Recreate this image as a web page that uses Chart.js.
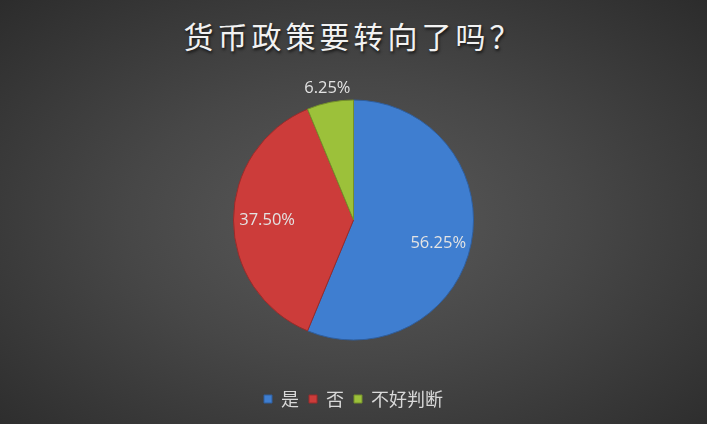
<!DOCTYPE html>
<html>
<head>
<meta charset="utf-8">
<script src="https://cdn.jsdelivr.net/npm/chart.js@4"></script>
<style>
  html, body { margin: 0; padding: 0; }
  body {
    width: 707px; height: 424px; overflow: hidden; position: relative;
    background: radial-gradient(ellipse at 50% 52%, #5a5a5a 0%, #474747 45%, #2c2c2c 100%);
  }
  #title {
    position: absolute; left: 0; top: 13px; width: 707px; text-align: center;
    font-family: "Noto Sans CJK SC", sans-serif; font-size: 30px; letter-spacing: 4px;
    color: #f2f2f2; text-shadow: 1px 2px 3px rgba(0,0,0,0.7);
  }
  #wrap { position: absolute; left: 0; top: 0; width: 707px; height: 424px; }
</style>
</head>
<body>
<div id="title">货币政策要转向了吗？</div>
<div id="wrap"><canvas id="pie"></canvas></div>
<script>
  const labels = ["是", "否", "不好判断"];
  const shares = [56.25, 37.5, 6.25];
  const valueLabels = ["56.25%", "37.50%", "6.25%"];
  const colors = ["#3f7ed0", "#cc3c3a", "#9cc13a"];
  const edges = ["#2f5f9f", "#9a2b2a", "#74902a"];

  // Excel-style data labels: inside for big slices, outside for the thin one
  const sliceLabels = {
    id: 'sliceLabels',
    afterDatasetsDraw(chart) {
      const ctx = chart.ctx;
      const meta = chart.getDatasetMeta(0);
      ctx.save();
      ctx.font = '16.5px "Open Sans", sans-serif';
      ctx.fillStyle = '#e3e3e3';
      ctx.textAlign = 'center';
      ctx.textBaseline = 'middle';
      meta.data.forEach((arc, i) => {
        const p = arc.getProps(['x', 'y', 'startAngle', 'endAngle', 'outerRadius'], true);
        const mid = (p.startAngle + p.endAngle) / 2;
        const r = shares[i] < 10 ? p.outerRadius + 14 : p.outerRadius * 0.72;
        const dy = i === 0 ? 6 : 0;
        ctx.fillText(valueLabels[i], p.x + Math.cos(mid) * r, p.y + Math.sin(mid) * r + dy);
      });
      ctx.restore();
    }
  };

  new Chart(document.getElementById('pie'), {
    type: 'pie',
    data: {
      labels: labels,
      datasets: [{
        data: shares,
        backgroundColor: colors,
        borderColor: edges,
        borderWidth: 1,
        radius: 120
      }]
    },
    options: {
      responsive: true,
      maintainAspectRatio: false,
      animation: false,
      layout: { padding: { top: 60, bottom: 6 } },
      plugins: {
        legend: {
          position: 'bottom',
          labels: {
            color: '#d9d9d9',
            font: { family: '"Noto Sans CJK SC", sans-serif', size: 18 },
            usePointStyle: true,
            pointStyle: 'rect',
            boxWidth: 8,
            boxHeight: 8,
            padding: 10
          }
        },
        tooltip: { enabled: false }
      }
    },
    plugins: [sliceLabels]
  });
</script>
</body>
</html>
